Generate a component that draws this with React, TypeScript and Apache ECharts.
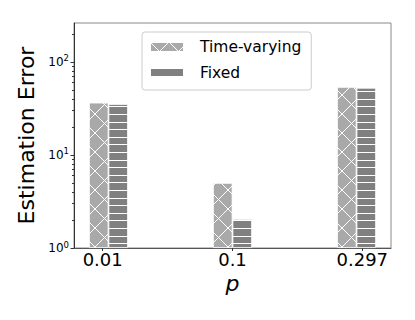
import React, { useEffect, useRef } from 'react';
import * as echarts from 'echarts';

const categories = ['0.01', '0.1', '0.297'];
const seriesNames = ['Time-varying', 'Fixed'];
const timeVarying = [36.5, 5.0, 53.8];
const fixedVals = [35.3, 2.05, 52.7];
const yMajorTicks = [1, 10, 100];
const yMinorTicks = [2, 3, 4, 5, 6, 7, 8, 9, 20, 30, 40, 50, 60, 70, 80, 90, 200];

const FONT = 'DejaVu Sans';

function makeHatch(kind: 'x' | '-') {
  const c = document.createElement('canvas');
  const g = c.getContext('2d') as CanvasRenderingContext2D;
  if (kind === 'x') {
    const s = 19;
    c.width = s;
    c.height = s;
    g.fillStyle = '#a9a9a9';
    g.fillRect(0, 0, s, s);
    g.strokeStyle = '#ffffff';
    g.lineWidth = 1;
    for (const o of [-s, 0, s]) {
      g.beginPath();
      g.moveTo(o, 0);
      g.lineTo(o + s, s);
      g.stroke();
      g.beginPath();
      g.moveTo(o + s, 0);
      g.lineTo(o, s);
      g.stroke();
    }
  } else {
    c.width = 8;
    c.height = 38;
    g.fillStyle = '#808080';
    g.fillRect(0, 0, 8, 38);
    g.strokeStyle = '#ffffff';
    g.lineWidth = 1;
    for (let i = 0; i < 5; i++) {
      const y = Math.round(i * 7.6) + 0.5;
      g.beginPath();
      g.moveTo(0, y);
      g.lineTo(8, y);
      g.stroke();
    }
  }
  return { image: c, repeat: 'repeat', imageWidth: c.width, imageHeight: c.height } as any;
}

export default function App() {
  const ref = useRef<HTMLDivElement>(null);
  useEffect(() => {
    if (!ref.current) return;
    const chart = echarts.init(ref.current, null, { renderer: 'svg' });
    const hatchX = makeHatch('x');
    const hatchH = makeHatch('-');
    const option: any = {
      animation: false,
      textStyle: { fontFamily: FONT },
      grid: {
        left: 74,
        right: 24,
        top: 23,
        bottom: 72,
        show: true,
        borderColor: '#888',
        borderWidth: 1,
        backgroundColor: 'transparent',
      },
      legend: {
        orient: 'vertical',
        left: 142,
        top: 32,
        data: seriesNames,
        icon: 'rect',
        itemWidth: 34,
        itemHeight: 10,
        itemGap: 10,
        padding: [7, 10, 9, 7],
        borderColor: '#cccccc',
        borderWidth: 1,
        borderRadius: 3,
        backgroundColor: 'rgba(255,255,255,0.8)',
        textStyle: { fontSize: 15.5, color: '#000', fontFamily: FONT, lineHeight: 16, padding: [0, 0, 0, 11] },
      },
      xAxis: [
        { type: 'value', min: -0.278, max: 2.278, show: false, axisLine: { onZero: false } },
        {
          type: 'value',
          min: -0.221,
          max: 2.221,
          position: 'bottom',
          axisLine: { show: true, onZero: false, lineStyle: { color: '#555', width: 1 } },
          axisTick: { show: true, inside: false, length: 3, customValues: [0, 1, 2], lineStyle: { color: '#333' } },
          axisLabel: {
            customValues: [0, 1, 2],
            formatter: (v: number) => categories[Math.round(v)] ?? '',
            fontSize: 18,
            color: '#000',
            margin: 2,
            fontFamily: FONT,
          },
          splitLine: { show: false },
          name: 'p',
          nameLocation: 'middle',
          nameGap: 13,
          nameTextStyle: { fontSize: 22, fontStyle: 'italic', color: '#000', fontFamily: FONT },
        },
      ],
      yAxis: [
        {
          type: 'log',
          logBase: 10,
          min: 1,
          max: 262,
          position: 'left',
          axisLine: { show: true, onZero: false, lineStyle: { color: '#333', width: 1 } },
          axisTick: { show: true, inside: false, length: 3.5, customValues: yMajorTicks, lineStyle: { color: '#333' } },
          axisLabel: {
            customValues: yMajorTicks,
            formatter: (v: number) => `{b|10}{s|${Math.round(Math.log10(v))}}`,
            margin: 5,
            rich: {
              b: { fontSize: 12, color: '#000', fontFamily: FONT },
              s: { fontSize: 8.5, color: '#000', fontFamily: FONT, padding: [0, 0, 7, 0] },
            },
          },
          splitLine: { show: false },
          name: 'Estimation Error',
          nameLocation: 'middle',
          nameGap: 35,
          nameTextStyle: { fontSize: 22, color: '#000', fontFamily: FONT },
        },
        {
          type: 'log',
          logBase: 10,
          min: 1,
          max: 262,
          position: 'left',
          axisLine: { show: false, onZero: false },
          axisTick: { show: true, inside: false, length: 2, customValues: yMinorTicks, lineStyle: { color: '#333' } },
          axisLabel: { show: false },
          splitLine: { show: false },
        },
      ],
      series: [
        {
          name: seriesNames[0],
          type: 'bar',
          xAxisIndex: 0,
          yAxisIndex: 0,
          barWidth: 19.5,
          barGap: '0%',
          data: categories.map((_, i) => [i, timeVarying[i]]),
          itemStyle: { color: hatchX, borderColor: '#ffffff', borderWidth: 0.8 },
        },
        {
          name: seriesNames[1],
          type: 'bar',
          xAxisIndex: 0,
          yAxisIndex: 0,
          barWidth: 19.5,
          barGap: '0%',
          data: categories.map((_, i) => [i, fixedVals[i]]),
          itemStyle: { color: hatchH, borderColor: '#ffffff', borderWidth: 0.8 },
        },
      ],
    };
    chart.setOption(option);
    return () => chart.dispose();
  }, []);
  return <div ref={ref} style={{ width: 415, height: 320, position: 'absolute', left: 0, top: 0 }} />;
}
